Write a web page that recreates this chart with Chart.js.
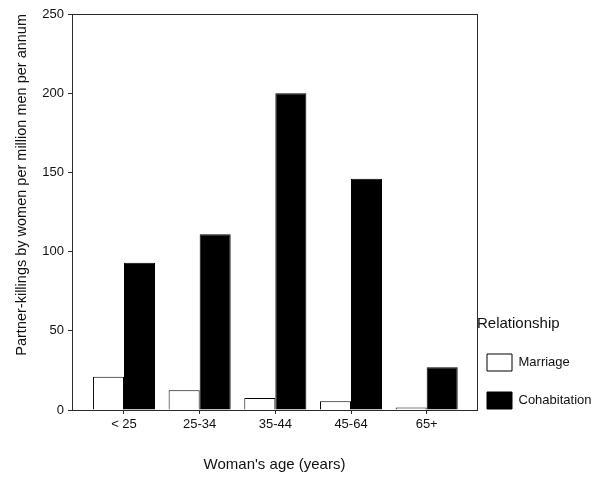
<!DOCTYPE html>
<html>
<head>
<meta charset="utf-8">
<script src="https://cdn.jsdelivr.net/npm/chart.js@4.4.1/dist/chart.umd.min.js"></script>
<style>
  html, body { margin: 0; padding: 0; background: #fff; overflow: hidden; }
  #wrap { position: relative; width: 592px; height: 478px; }
</style>
</head>
<body>
<div id="wrap"><canvas id="c"></canvas></div>
<script>
// ---- data ----
const categories = ['< 25', '25-34', '35-44', '45-64', '65+'];
const marriage = [21, 12.5, 7.5, 5.5, 1.5];
const cohabitation = [93, 111, 200, 146, 27];
const yTicks = [0, 50, 100, 150, 200, 250];
const seriesNames = ['Marriage', 'Cohabitation'];
const legendTitle = 'Relationship';
const xTitle = "Woman's age (years)";
const yTitle = 'Partner-killings by women per million men per annum';

const toPoints = arr => arr.map((v, i) => ({ x: i, y: v }));
const ink = '#111';
const lineCol = '#2a2a2a';

Chart.defaults.font.family = "'Liberation Sans', Arial, Helvetica, sans-serif";
Chart.defaults.color = ink;

new Chart(document.getElementById('c'), {
  type: 'bar',
  data: {
    datasets: [
      { label: seriesNames[0], data: toPoints(marriage), backgroundColor: '#fff', borderColor: '#000', borderWidth: 1 },
      { label: seriesNames[1], data: toPoints(cohabitation), backgroundColor: '#000', borderColor: '#000', borderWidth: 1 }
    ]
  },
  options: {
    responsive: true,
    maintainAspectRatio: false,
    animation: false,
    events: [],
    layout: { padding: { left: 9, top: 14, right: 0, bottom: 0 } },
    datasets: { bar: { categoryPercentage: 0.82, barPercentage: 1.0 } },
    scales: {
      x: {
        type: 'linear',
        offset: false,
        min: -0.687,
        max: 4.665,
        afterFit: s => { s.height = 68; },
        afterBuildTicks: s => { s.ticks = categories.map((_, i) => ({ value: i })); },
        ticks: {
          stepSize: 1,
          includeBounds: false,
          autoSkip: false,
          maxRotation: 0,
          padding: 3,
          font: { size: 13 },
          callback: v => categories[v] !== undefined ? categories[v] : ''
        },
        grid: { offset: false, drawOnChartArea: false, drawTicks: true, tickLength: 4, color: lineCol },
        border: { display: true, color: lineCol, width: 1 },
        title: { display: true, text: xTitle, font: { size: 15 }, padding: { top: 0, bottom: 4 } }
      },
      y: {
        min: 0,
        max: 250,
        afterFit: s => { s.width = 63; },
        afterBuildTicks: s => { s.ticks = yTicks.map(v => ({ value: v })); },
        ticks: { stepSize: 50, padding: 4, font: { size: 13 } },
        grid: { drawOnChartArea: false, drawTicks: true, tickLength: 4, color: lineCol },
        border: { display: true, color: lineCol, width: 1 },
        title: { display: true, text: yTitle, align: 'end', font: { size: 14.5 }, padding: { top: 4, bottom: 0 } }
      },
      x2: {
        type: 'linear',
        position: 'top',
        display: true,
        afterFit: s => { s.height = 0; },
        ticks: { display: false },
        grid: { display: false, drawTicks: false },
        border: { display: true, color: lineCol, width: 1 }
      },
      y2: {
        type: 'linear',
        position: 'right',
        display: true,
        afterFit: s => { s.width = 0; },
        ticks: { display: false },
        grid: { display: false, drawTicks: false },
        border: { display: true, color: lineCol, width: 1 }
      }
    },
    plugins: {
      tooltip: { enabled: false },
      legend: {
        display: true,
        position: 'right',
        align: 'start',
        maxWidth: 115,
        title: {
          display: true,
          text: legendTitle,
          position: 'start',
          color: ink,
          font: { size: 15 },
          padding: { top: 302.5, bottom: 9.5 }
        },
        labels: {
          boxWidth: 25,
          boxHeight: 17,
          padding: 10,
          color: ink,
          font: { size: 13, lineHeight: 1.077 },
          generateLabels: chart => {
            const items = Chart.defaults.plugins.legend.labels.generateLabels(chart);
            items.forEach(it => { it.text = [it.text, '']; });
            return items;
          }
        }
      }
    }
  }
});
</script>
</body>
</html>
